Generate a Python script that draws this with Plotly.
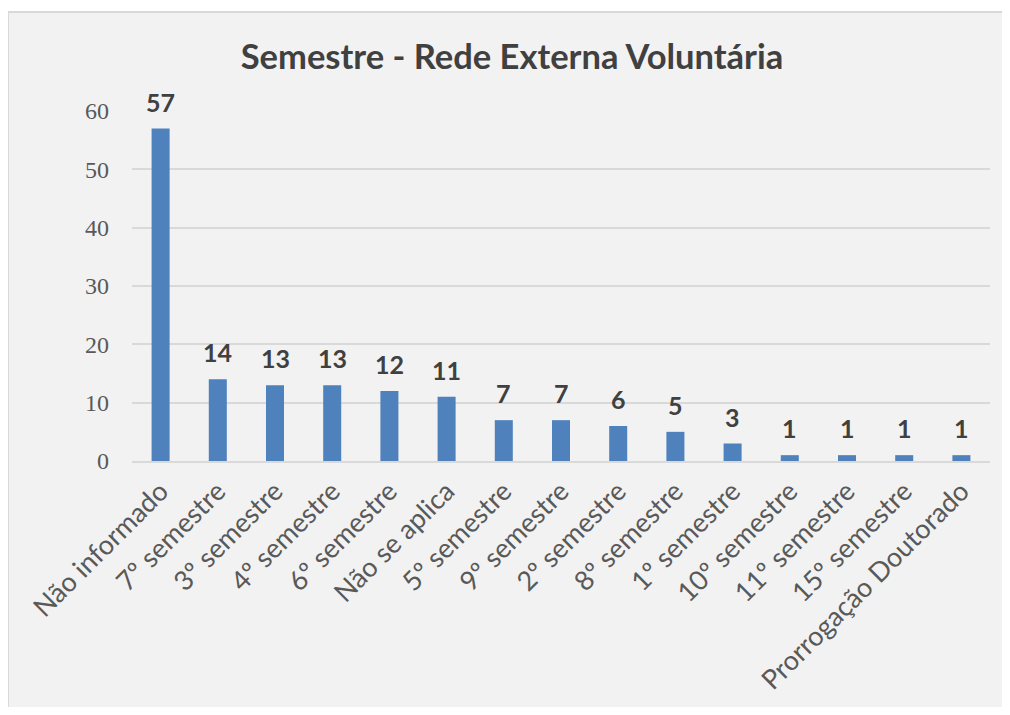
import plotly.graph_objects as go

categorias = ['Não informado', '7º semestre', '3º semestre', '4º semestre', '6º semestre',
              'Não se aplica', '5º semestre', '9º semestre', '2º semestre', '8º semestre',
              '1º semestre', '10º semestre', '11º semestre', '15º semestre',
              'Prorrogação Doutorado']
quantidades = [57, 14, 13, 13, 12, 11, 7, 7, 6, 5, 3, 1, 1, 1, 1]
y_ticks = [0, 10, 20, 30, 40, 50, 60]

# a página tem 8px de margem no body: a figura começa em (8, 8)
# e fica menor para não gerar barra de rolagem
OFF = 8
W, H = 1010 - OFF, 715 - 2 * OFF
L, T = 132 - OFF, 111 - OFF
R, B = W - (990 - OFF), H - (461 - OFF)
pw, ph = W - L - R, H - T - B


def px_x(x):
    return (x - OFF - L) / pw


def px_y(y):
    return (H - B - (y - OFF)) / ph


fig = go.Figure()
fig.add_trace(go.Bar(
    x=categorias,
    y=quantidades,
    marker=dict(color='#4f81bd', line=dict(width=0)),
    hovertemplate='%{x}: %{y}<extra></extra>',
))

# rótulos de dados acima das barras
for cat, val in zip(categorias, quantidades):
    fig.add_annotation(x=cat, y=val, text=f'<b>{val}</b>', showarrow=False,
                       yanchor='bottom', yshift=10,
                       font=dict(family='Lato', size=25, color='#404040'))

# fundo cinza do gráfico, só com borda em cima e à esquerda
fig.add_shape(type='rect', xref='paper', yref='paper',
              x0=px_x(OFF), x1=px_x(1040), y0=px_y(760), y1=px_y(12),
              fillcolor='#f2f2f2', line=dict(width=0), layer='below')
fig.add_shape(type='line', xref='paper', yref='paper',
              x0=px_x(OFF), x1=px_x(1040), y0=px_y(12), y1=px_y(12),
              line=dict(color='#d9d9d9', width=2), layer='below')
fig.add_shape(type='line', xref='paper', yref='paper',
              x0=px_x(OFF), x1=px_x(OFF), y0=px_y(760), y1=px_y(12),
              line=dict(color='#d9d9d9', width=2), layer='below')

fig.update_layout(
    width=W, height=H,
    margin=dict(l=L, r=R, t=T, b=B),
    paper_bgcolor='white',
    plot_bgcolor='rgba(0,0,0,0)',
    bargap=0.685,
    showlegend=False,
    title=dict(text='<b>Semestre - Rede Externa Voluntária</b>',
               x=(512 - OFF) / W, xref='container', xanchor='center',
               y=1 - (57 - OFF) / H, yanchor='middle',
               font=dict(family='Lato', size=34.5, color='#404040')),
)
fig.update_yaxes(range=[0, 60], tickvals=y_ticks, showgrid=True,
                 gridcolor='#d9d9d9', gridwidth=1.5, zeroline=False,
                 showline=False, ticks='', ticklabelstandoff=22,
                 tickfont=dict(family='Liberation Serif', size=24, color='#595959'))
fig.update_xaxes(tickangle=-45, showline=True, linecolor='#d9d9d9', linewidth=1.5,
                 ticks='', ticklabelstandoff=2,
                 tickfont=dict(family='Lato', size=27, color='#595959'))

fig.write_html('out.html')
